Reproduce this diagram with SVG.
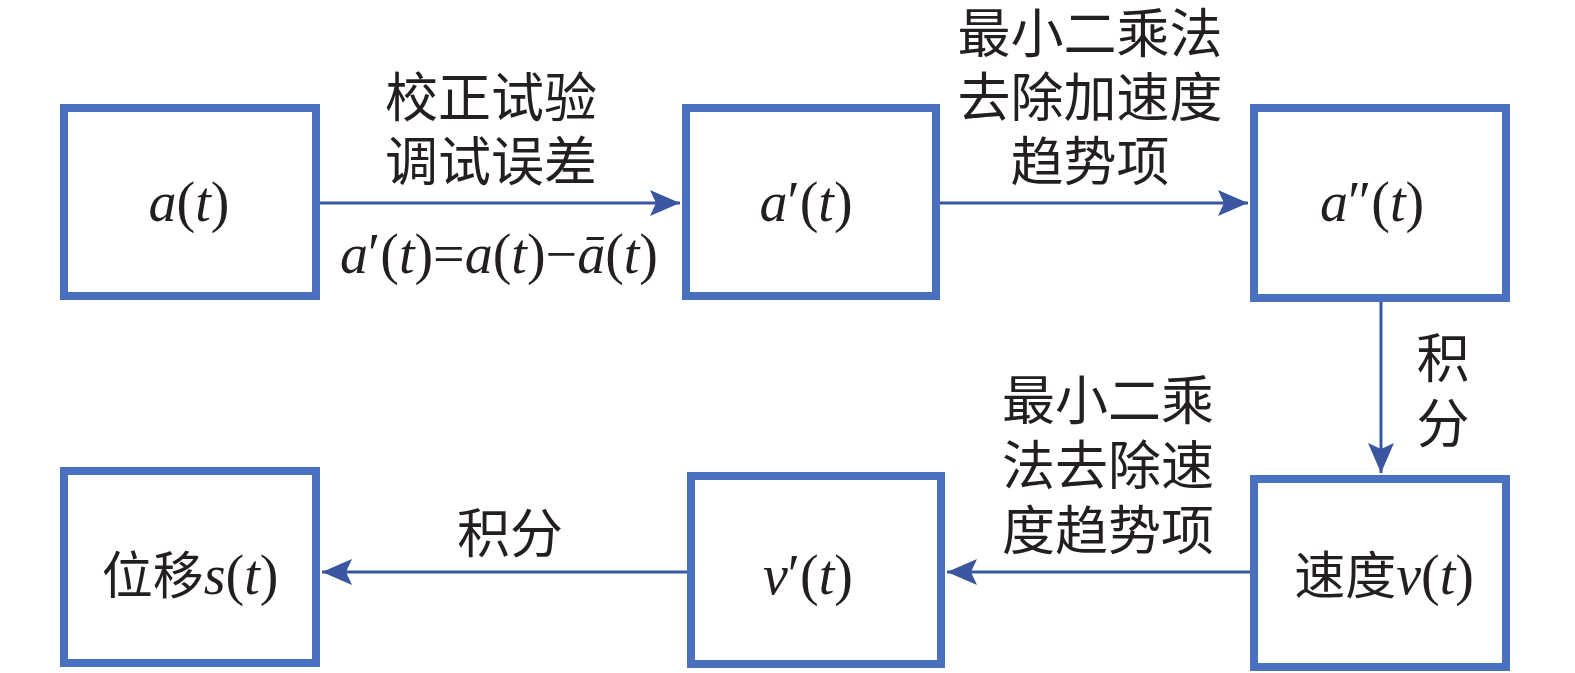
<svg xmlns="http://www.w3.org/2000/svg" width="1575" height="673" viewBox="0 0 1575 673">
<defs>
<style>
.box{fill:#fff;stroke:#4a70c0;stroke-width:8}
.con{stroke:#3b56a0;stroke-width:3;fill:none}
.t{font-family:"Liberation Serif","Noto Sans CJK SC",serif;font-size:56px;fill:#231f20;text-anchor:middle}
.cn{font-family:"Liberation Serif","Noto Sans CJK SC",serif;font-size:53px;fill:#231f20;text-anchor:middle}
.cb{font-size:51px}
.i{font-style:italic}
</style>
<marker id="ah" markerUnits="userSpaceOnUse" markerWidth="32" markerHeight="26" refX="30" refY="13" orient="auto">
<path d="M0,0 L30,13 L0,26 L6,13 z" fill="#3b56a0"/>
</marker>
</defs>
<rect width="1575" height="673" fill="#fff"/>
<g id="connectors">
<line class="con" x1="320" y1="203" x2="680" y2="203" marker-end="url(#ah)"/>
<line class="con" x1="937" y1="203" x2="1248" y2="203" marker-end="url(#ah)"/>
<line class="con" x1="1381" y1="300" x2="1381" y2="473" marker-end="url(#ah)"/>
<line class="con" x1="1252" y1="572" x2="947" y2="572" marker-end="url(#ah)"/>
<line class="con" x1="689" y1="572" x2="322" y2="572" marker-end="url(#ah)"/>
</g>
<g id="n1"><rect class="box" x="64" y="108" width="252" height="188"/>
<text class="t" x="189" y="221"><tspan class="i">a</tspan>(<tspan class="i">t</tspan>)</text></g>
<g id="n2"><rect class="box" x="686" y="108" width="250" height="188"/>
<text class="t" x="806" y="221"><tspan class="i">a</tspan>′(<tspan class="i">t</tspan>)</text></g>
<g id="n3"><rect class="box" x="1254" y="108" width="252" height="190"/>
<text class="t" x="1372" y="221"><tspan class="i">a</tspan>″(<tspan class="i">t</tspan>)</text></g>
<g id="n4"><rect class="box" x="64" y="471" width="252" height="192"/>
<text class="t" x="190" y="594"><tspan class="cb">位移</tspan><tspan class="i">s</tspan>(<tspan class="i">t</tspan>)</text></g>
<g id="n5"><rect class="box" x="691" y="476" width="250" height="188"/>
<text class="t" x="808" y="594"><tspan class="i">v</tspan>′(<tspan class="i">t</tspan>)</text></g>
<g id="n6"><rect class="box" x="1254" y="479" width="252" height="188"/>
<text class="t" x="1384" y="594"><tspan class="cb">速度</tspan><tspan class="i">v</tspan>(<tspan class="i">t</tspan>)</text></g>
<g id="labels">
<text class="cn" x="491" y="117">校正试验</text>
<text class="cn" x="491" y="181">调试误差</text>
<text class="t" x="499" y="273"><tspan class="i">a</tspan>′(<tspan class="i">t</tspan>)=<tspan class="i">a</tspan>(<tspan class="i">t</tspan>)−<tspan class="i">ā</tspan>(<tspan class="i">t</tspan>)</text>
<text class="cn" x="1090" y="53">最小二乘法</text>
<text class="cn" x="1090" y="117">去除加速度</text>
<text class="cn" x="1090" y="181">趋势项</text>
<text class="cn" x="1443" y="378">积</text>
<text class="cn" x="1443" y="443">分</text>
<text class="cn" x="1108" y="420">最小二乘</text>
<text class="cn" x="1108" y="485">法去除速</text>
<text class="cn" x="1108" y="550">度趋势项</text>
<text class="cn" x="510" y="553">积分</text>
</g>
</svg>
